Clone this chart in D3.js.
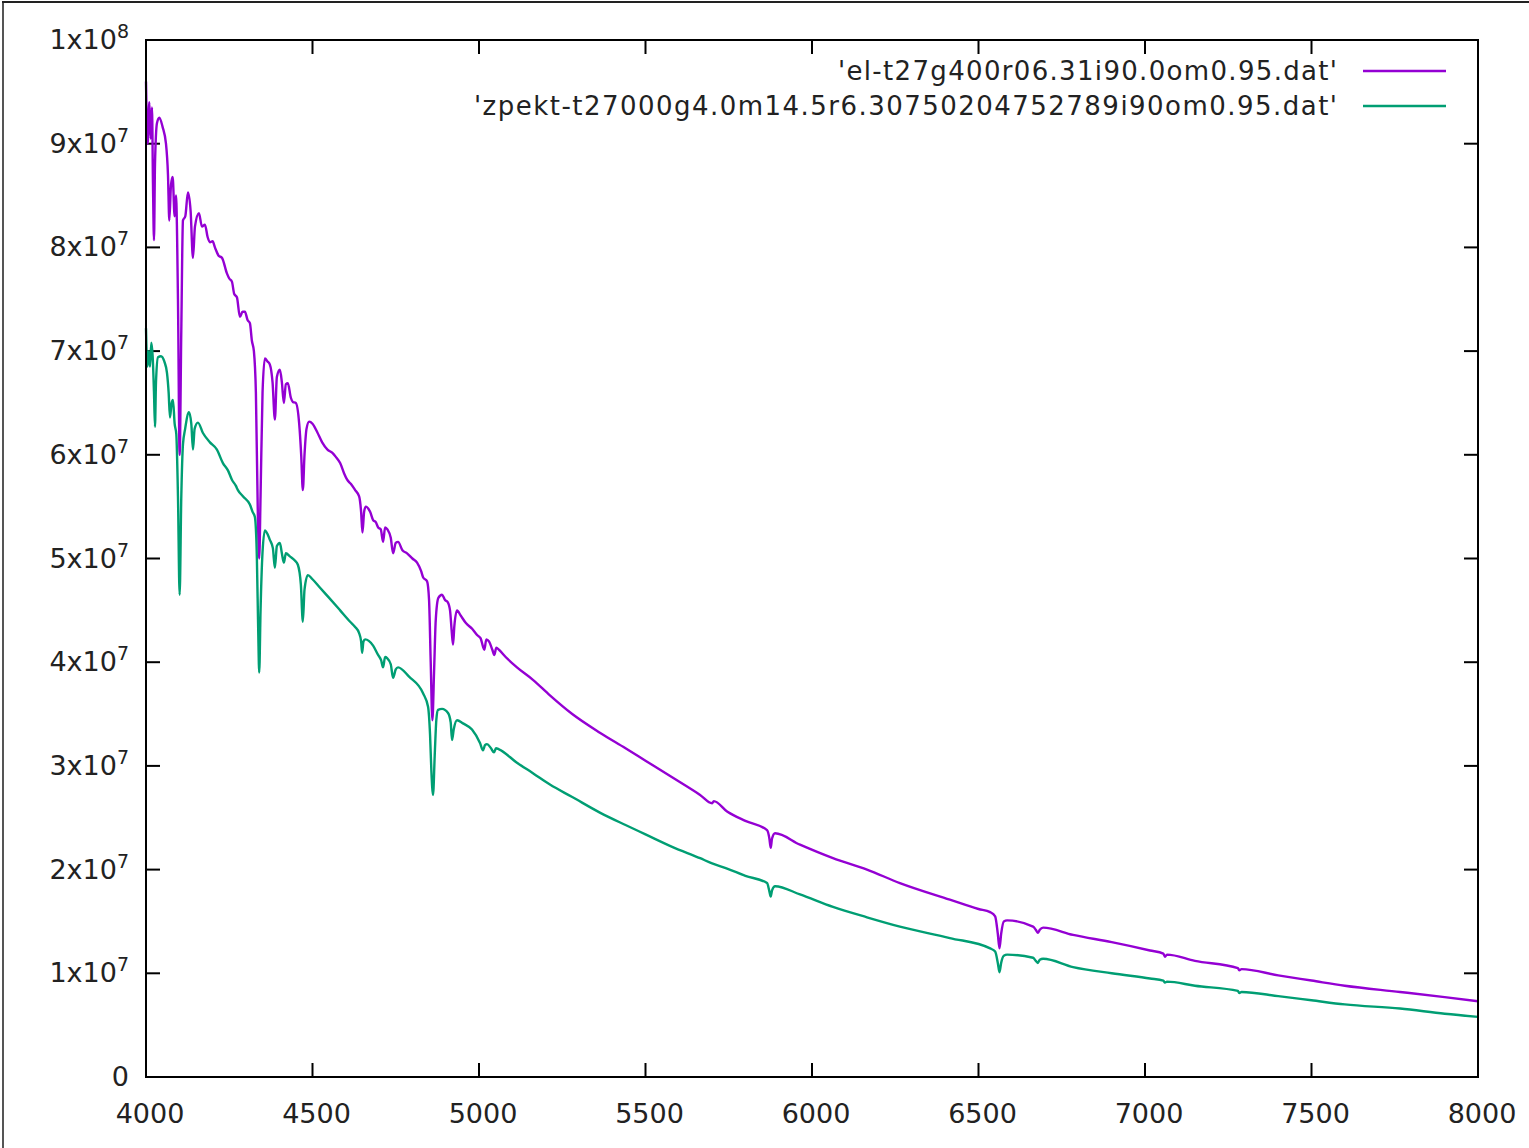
<!DOCTYPE html>
<html>
<head>
<meta charset="utf-8">
<script src="https://cdn.jsdelivr.net/npm/d3@7"></script>
<style>
  body { margin: 0; background: #fff; }
  text { font-family: "DejaVu Sans", sans-serif; fill: #222; }
</style>
</head>
<body>
<div class="canvas"></div>
<script>
// flux values are in units of 1e7
const elWave = [4000, 4005, 4010, 4014, 4018, 4021, 4024, 4027, 4033, 4040, 4050, 4060, 4066, 4070, 4075, 4080, 4086, 4090, 4096, 4101,
  4106, 4111, 4118, 4126, 4134, 4141, 4147, 4159, 4168, 4177, 4185, 4192, 4200, 4207, 4218, 4228, 4243, 4250, 4258, 4265,
  4273, 4282, 4290, 4297, 4305, 4312, 4318, 4324, 4330, 4336, 4340, 4344, 4350, 4357, 4365, 4372, 4380, 4387, 4393, 4402,
  4408, 4414, 4420, 4426, 4435, 4441, 4450, 4460, 4466, 4471, 4476, 4482, 4490, 4500, 4514, 4529, 4545, 4559, 4570, 4583,
  4595, 4604, 4615, 4628, 4640, 4646, 4650, 4655, 4660, 4673, 4682, 4690, 4697, 4705, 4712, 4718, 4725, 4735, 4742, 4750,
  4757, 4770, 4784, 4800, 4814, 4826, 4832, 4844, 4850, 4855, 4860, 4865, 4870, 4878, 4889, 4898, 4906, 4913, 4918, 4922,
  4926, 4934, 4945, 4960, 4980, 4995, 5005, 5012, 5016, 5022, 5030, 5040, 5046, 5052, 5060, 5080, 5114, 5162, 5213, 5280,
  5363, 5440, 5500, 5580, 5664, 5700, 5705, 5745, 5800, 5865, 5872, 5876, 5880, 5889, 5964, 6063, 6165, 6264, 6414, 6500,
  6535, 6550, 6558, 6563, 6568, 6576, 6586, 6664, 6672, 6678, 6684, 6694, 6784, 6900, 7015, 7055, 7060, 7066, 7150, 7279,
  7283, 7290, 7400, 7500, 7600, 7766, 7900, 8000];
const elFlux = [9.6, 9.0, 9.4, 9.05, 9.35, 8.6, 8.07, 8.8, 9.2, 9.25, 9.16, 9.0, 8.7, 8.26, 8.6, 8.68, 8.3, 8.5, 7.5, 6.0,
  7.2, 8.26, 8.3, 8.53, 8.35, 7.9, 8.2, 8.33, 8.2, 8.22, 8.1, 8.05, 8.06, 8.0, 7.92, 7.9, 7.75, 7.7, 7.67, 7.55,
  7.52, 7.33, 7.38, 7.38, 7.3, 7.27, 7.1, 7.0, 6.6, 5.4, 5.0, 5.6, 6.6, 6.93, 6.9, 6.87, 6.7, 6.34, 6.75, 6.82,
  6.7, 6.5, 6.68, 6.69, 6.55, 6.51, 6.5, 6.3, 6.0, 5.66, 6.0, 6.25, 6.32, 6.3, 6.22, 6.12, 6.05, 6.02, 5.98, 5.92,
  5.82, 5.76, 5.72, 5.66, 5.6, 5.45, 5.25, 5.45, 5.5, 5.45, 5.37, 5.35, 5.3, 5.28, 5.16, 5.3, 5.28, 5.2, 5.05, 5.15,
  5.16, 5.08, 5.05, 5.0, 4.96, 4.88, 4.82, 4.78, 4.6, 4.0, 3.44, 3.9, 4.4, 4.62, 4.65, 4.6, 4.58, 4.5, 4.3, 4.17,
  4.35, 4.5, 4.45, 4.38, 4.32, 4.26, 4.23, 4.15, 4.12, 4.22, 4.2, 4.12, 4.07, 4.14, 4.12, 4.05, 3.95, 3.83, 3.68, 3.5,
  3.32, 3.17, 3.05, 2.89, 2.72, 2.64, 2.66, 2.56, 2.47, 2.38, 2.3, 2.21, 2.3, 2.35, 2.24, 2.11, 2.0, 1.87, 1.71, 1.62,
  1.59, 1.55, 1.38, 1.24, 1.38, 1.5, 1.51, 1.45, 1.42, 1.39, 1.42, 1.44, 1.37, 1.3, 1.22, 1.19, 1.16, 1.18, 1.12, 1.05,
  1.03, 1.04, 0.98, 0.93, 0.88, 0.82, 0.77, 0.73];

const zpWave = [4000, 4004, 4008, 4012, 4016, 4020, 4024, 4027, 4030, 4036, 4045, 4055, 4063, 4068, 4072, 4077, 4081, 4086, 4091, 4096,
  4101, 4106, 4111, 4117, 4129, 4136, 4141, 4146, 4156, 4171, 4192, 4213, 4231, 4246, 4258, 4270, 4276, 4291, 4312, 4320,
  4327, 4333, 4337, 4340, 4344, 4349, 4357, 4372, 4381, 4387, 4393, 4402, 4408, 4414, 4420, 4432, 4447, 4456, 4465, 4471,
  4476, 4486, 4500, 4522, 4550, 4583, 4613, 4628, 4640, 4646, 4649, 4653, 4658, 4682, 4697, 4706, 4712, 4718, 4724, 4735,
  4742, 4750, 4757, 4790, 4832, 4847, 4853, 4857, 4862, 4867, 4872, 4877, 4889, 4907, 4915, 4919, 4924, 4934, 4952, 4979,
  5003, 5012, 5018, 5024, 5036, 5045, 5051, 5060, 5114, 5162, 5213, 5280, 5363, 5440, 5500, 5580, 5664, 5700, 5745, 5800,
  5865, 5872, 5876, 5880, 5889, 5964, 6063, 6165, 6264, 6414, 6535, 6550, 6558, 6563, 6568, 6576, 6586, 6664, 6672, 6678,
  6684, 6694, 6784, 6900, 7015, 7055, 7060, 7066, 7150, 7279, 7283, 7290, 7400, 7500, 7600, 7766, 7900, 8000];
const zpFlux = [7.22, 6.85, 7.0, 6.85, 7.08, 6.95, 6.6, 6.27, 6.7, 6.94, 6.95, 6.9, 6.79, 6.6, 6.36, 6.5, 6.53, 6.3, 6.2, 5.6,
  4.65, 5.6, 6.1, 6.24, 6.41, 6.3, 6.05, 6.25, 6.31, 6.21, 6.12, 6.05, 5.92, 5.85, 5.76, 5.7, 5.66, 5.6, 5.52, 5.45,
  5.4, 5.0, 4.3, 3.9, 4.5, 5.0, 5.27, 5.18, 5.1, 4.91, 5.12, 5.15, 5.05, 4.96, 5.05, 5.02, 4.98, 4.94, 4.75, 4.39,
  4.7, 4.84, 4.8, 4.72, 4.62, 4.5, 4.39, 4.34, 4.28, 4.2, 4.09, 4.2, 4.22, 4.16, 4.07, 4.02, 3.95, 4.05, 4.04, 3.98,
  3.85, 3.93, 3.95, 3.86, 3.7, 3.57, 3.3, 2.95, 2.72, 3.1, 3.45, 3.54, 3.55, 3.51, 3.42, 3.25, 3.35, 3.44, 3.41, 3.35,
  3.22, 3.15, 3.2, 3.21, 3.17, 3.13, 3.17, 3.16, 3.03, 2.93, 2.82, 2.7, 2.55, 2.43, 2.34, 2.22, 2.11, 2.06, 2.01, 1.94,
  1.87, 1.79, 1.74, 1.8, 1.84, 1.76, 1.64, 1.54, 1.45, 1.34, 1.24, 1.21, 1.1, 1.01, 1.1, 1.17, 1.18, 1.15, 1.12, 1.10,
  1.13, 1.14, 1.06, 1.0, 0.95, 0.93, 0.91, 0.92, 0.88, 0.83, 0.81, 0.82, 0.78, 0.74, 0.7, 0.66, 0.61, 0.58];

const seriesNames = ["'el-t27g400r06.31i90.0om0.95.dat'", "'zpekt-t27000g4.0m14.5r6.30750204752789i90om0.95.dat'"];
const seriesColors = ['#9400d3', '#009e73'];
const legendWidths = [499, 863];
const xTicks = [4000, 4500, 5000, 5500, 6000, 6500, 7000, 7500, 8000];
const yTicks = [0, 1, 2, 3, 4, 5, 6, 7, 8, 9, 10]; // x 1e7

const W = 1529, H = 1148;
const m = { left: 146, top: 40, right: 1478, bottom: 1077 };
const tickLen = 14;

const svg = d3.select('.canvas')
    .append('svg')
    .attr('width', W)
    .attr('height', H);

// outer frame edges (left and top)
svg.append('line').attr('x1', 3).attr('x2', 3).attr('y1', 1).attr('y2', H)
    .attr('stroke', '#555').attr('stroke-width', 2);
svg.append('line').attr('x1', 2).attr('x2', W).attr('y1', 2).attr('y2', 2)
    .attr('stroke', '#222').attr('stroke-width', 2);

const x = d3.scaleLinear().domain([4000, 8000]).range([m.left, m.right]);
const y = d3.scaleLinear().domain([0, 1e8]).range([m.bottom, m.top]);

// ticks on all four sides, pointing inward
const tickG = svg.append('g').attr('stroke', '#000').attr('stroke-width', 2);
xTicks.forEach(t => {
    tickG.append('line').attr('x1', x(t)).attr('x2', x(t)).attr('y1', m.bottom).attr('y2', m.bottom - tickLen);
    tickG.append('line').attr('x1', x(t)).attr('x2', x(t)).attr('y1', m.top).attr('y2', m.top + tickLen);
});
yTicks.forEach(t => {
    tickG.append('line').attr('x1', m.left).attr('x2', m.left + tickLen).attr('y1', y(t * 1e7)).attr('y2', y(t * 1e7));
    tickG.append('line').attr('x1', m.right).attr('x2', m.right - tickLen).attr('y1', y(t * 1e7)).attr('y2', y(t * 1e7));
});

// x labels
svg.append('g').selectAll('text')
    .data(xTicks)
    .enter().append('text')
    .attr('x', d => x(d) + 4)
    .attr('y', m.bottom + 46)
    .attr('text-anchor', 'middle')
    .attr('font-size', 27)
    .text(d => d);

// y labels with superscript exponent
const yLab = svg.append('g').selectAll('text')
    .data(yTicks)
    .enter().append('text')
    .attr('x', 129)
    .attr('y', d => y(d * 1e7) + 9)
    .attr('text-anchor', 'end')
    .attr('font-size', 27);

yLab.each(function(d) {
    const t = d3.select(this);
    if (d === 0) { t.text('0'); return; }
    const mant = d === 10 ? 1 : d;
    const exp = d === 10 ? 8 : 7;
    t.append('tspan').text(mant + 'x10');
    t.append('tspan').attr('dy', -11).attr('font-size', 19).text(exp);
});

// data lines
const line = d3.line()
    .curve(d3.curveMonotoneX)
    .x(d => x(d[0]))
    .y(d => y(d[1] * 1e7));

const plot = svg.append('g');
const series = [d3.zip(elWave, elFlux), d3.zip(zpWave, zpFlux)];
series.forEach((s, i) => {
    plot.append('path')
        .datum(s)
        .attr('fill', 'none')
        .attr('stroke', seriesColors[i])
        .attr('stroke-width', 2.4)
        .attr('stroke-linejoin', 'round')
        .attr('d', line);
});

// frame
svg.append('rect')
    .attr('x', m.left).attr('y', m.top)
    .attr('width', m.right - m.left).attr('height', m.bottom - m.top)
    .attr('fill', 'none').attr('stroke', '#000').attr('stroke-width', 2);

// legend
const legend = svg.append('g');
seriesNames.forEach((name, i) => {
    const ly = 71 + i * 35;
    legend.append('text')
        .attr('x', 1337).attr('y', ly + 9)
        .attr('text-anchor', 'end')
        .attr('font-size', 26)
        .attr('textLength', legendWidths[i])
        .attr('lengthAdjust', 'spacing')
        .text(name);
    legend.append('line')
        .attr('x1', 1363).attr('x2', 1446)
        .attr('y1', ly).attr('y2', ly)
        .attr('stroke', seriesColors[i]).attr('stroke-width', 2.3);
});
</script>
</body>
</html>
